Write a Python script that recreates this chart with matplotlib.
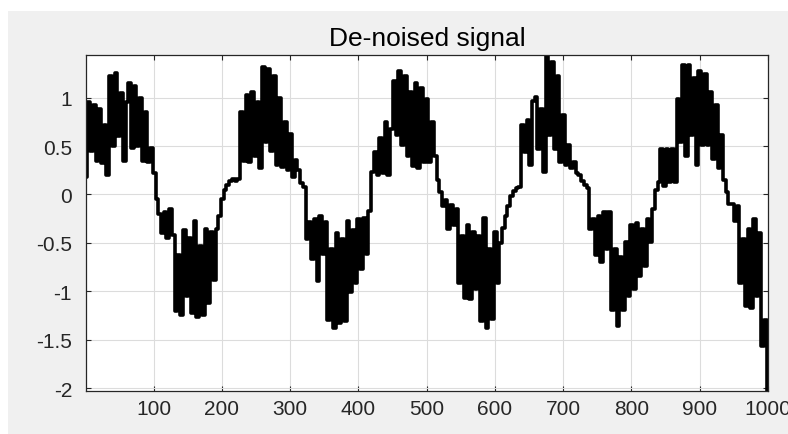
import numpy as np
import matplotlib.pyplot as plt
from matplotlib.patches import Rectangle
from matplotlib.ticker import FormatStrFormatter

plt.rcParams['font.family'] = ['Liberation Sans', 'DejaVu Sans']
plt.rcParams['axes.unicode_minus'] = False

title = "De-noised signal"

# de-noised values, one every ~4 samples (x = 1 .. 1000)
signal = [
    0.18, 0.95, 0.45, 0.92, 0.35, 0.88, 0.32, 0.72, 0.20, 1.22,
    0.50, 1.25, 0.60, 1.05, 0.35, 0.95, 1.15, 0.48, 1.12, 0.50,
    1.00, 0.35, 0.85, 0.33, 0.48, 0.22, -0.05, -0.20, -0.40, -0.18,
    -0.45, -0.15, -0.42, -1.20, -0.63, -1.25, -0.37, -1.05, -0.45, -1.22,
    -0.27, -1.27, -0.53, -1.25, -0.36, -1.12, -0.39, -0.88, -0.36, -0.22,
    -0.05, 0.05, 0.10, 0.14, 0.16, 0.14, 0.16, 0.85, 0.35, 1.03,
    0.33, 1.06, 0.40, 0.95, 0.27, 1.32, 0.54, 1.30, 0.45, 1.22,
    0.30, 1.00, 0.28, 0.75, 0.25, 0.62, 0.18, 0.36, 0.25, 0.12,
    0.08, -0.46, -0.28, -0.67, -0.25, -0.89, -0.22, -0.62, -0.28, -1.30,
    -0.56, -1.38, -0.40, -1.33, -0.46, -1.31, -0.27, -1.01, -0.37, -0.91,
    -0.25, -0.77, -0.24, -0.62, -0.17, 0.23, 0.44, 0.20, 0.58, 0.22,
    0.75, 0.20, 0.68, 1.17, 0.61, 1.27, 0.51, 1.22, 0.40, 1.06,
    0.29, 1.15, 0.27, 1.10, 0.34, 0.99, 0.34, 0.75, 0.40, 0.15,
    0.02, -0.12, -0.06, -0.36, -0.11, -0.32, -0.15, -0.91, -0.43, -1.07,
    -0.32, -1.08, -0.39, -0.98, -0.43, -1.31, -0.24, -1.38, -0.56, -1.29,
    -0.39, -0.91, -0.50, -0.35, -0.22, -0.12, -0.02, 0.04, 0.07, 0.08,
    0.72, 0.44, 0.77, 0.30, 0.96, 1.01, 0.47, 0.88, 0.23, 1.44,
    0.61, 1.37, 0.47, 1.22, 0.34, 0.82, 0.30, 0.51, 0.27, 0.34,
    0.22, 0.20, 0.14, 0.10, 0.07, -0.36, -0.25, -0.63, -0.22, -0.70,
    -0.18, -0.56, -0.18, -1.19, -0.56, -1.36, -0.65, -1.19, -0.49, -1.05,
    -0.32, -0.98, -0.29, -0.84, -0.36, -0.74, -0.25, -0.49, -0.15, 0.05,
    0.13, 0.47, 0.09, 0.47, 0.13, 0.47, 0.13, 0.99, 0.54, 1.34,
    0.40, 1.34, 0.61, 1.20, 0.30, 1.27, 0.51, 1.24, 0.51, 1.06,
    0.37, 0.92, 0.27, 0.61, 0.15, 0.02, -0.10, -0.10, -0.27, -0.12,
    -0.91, -0.46, -1.15, -0.36, -1.17, -0.25, -1.05, -0.40, -1.57, -1.30,
    -2.03,
]
x_ticks = [100, 200, 300, 400, 500, 600, 700, 800, 900, 1000]
y_ticks = [-2, -1.5, -1, -0.5, 0, 0.5, 1]

x = np.linspace(1, 1000, len(signal))

fig = plt.figure(figsize=(7.88, 4.35), dpi=100, facecolor='white')
# grey figure panel (MATLAB window look)
fig.patches.append(Rectangle((8 / 788, 0), 1, 1 - 12 / 435, transform=fig.transFigure,
                             facecolor='#f0f0f0', edgecolor='none', zorder=-10))

ax = fig.add_axes([86 / 788, 1 - 392 / 435, 682 / 788, 336 / 435])
ax.plot(x, signal, color='black', linewidth=2.6, drawstyle='steps-mid')

ax.set_xlim(1, 1000)
ax.set_ylim(min(signal), max(signal))
ax.set_xticks(x_ticks)
ax.set_yticks(y_ticks)
ax.yaxis.set_major_formatter(FormatStrFormatter('%g'))

ax.grid(True, color='#dcdcdc', linewidth=0.8)
ax.set_axisbelow(True)
for s in ax.spines.values():
    s.set_color('#262626')
    s.set_linewidth(0.9)
ax.tick_params(direction='in', length=3.5, width=0.8, colors='#262626',
               labelsize=15, top=True, right=True)
ax.tick_params(axis='x', pad=6)
ax.tick_params(axis='y', pad=10)

ax.set_title(title, fontsize=19, color='black', pad=7)

fig.savefig('out.png', dpi=100, facecolor=fig.get_facecolor())
